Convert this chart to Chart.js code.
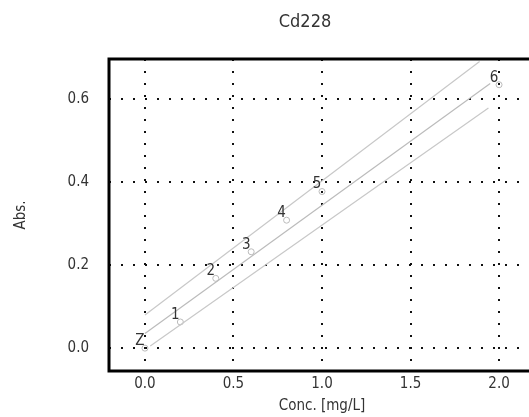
<!DOCTYPE html>
<html>
<head>
<meta charset="utf-8">
<script src="https://cdn.jsdelivr.net/npm/chart.js@4"></script>
<style>
  html, body { margin: 0; padding: 0; background: #fff; overflow: hidden; }
  #wrap { width: 608px; height: 417px; }
</style>
</head>
<body>
<div id="wrap"><canvas id="grafico" width="608" height="417"></canvas></div>
<script>
// Dados da curva de calibração
const concPontos = [0, 0.2, 0.4, 0.6, 0.8, 1.0, 2.0];
const absPontos = [0.0, 0.063, 0.168, 0.232, 0.308, 0.377, 0.634];
const rotulosPontos = ['Z', '1', '2', '3', '4', '5', '6'];

// Reta de regressão e limites
const retaX = [0, 1.95];
const retaY = [0.035, 0.637];
const limSupX = [0, 1.89];
const limSupY = [0.08, 0.69];
const limInfX = [0.03, 1.94];
const limInfY = [0.005, 0.578];

const ticksX = [0, 0.5, 1.0, 1.5, 2.0];
const ticksY = [0, 0.2, 0.4, 0.6];

const titulo = 'Cd228';
const fonte = "'DejaVu Sans Condensed', 'Liberation Sans', Arial, sans-serif";

function pares(xs, ys) {
  return xs.map((x, i) => ({ x: x, y: ys[i] }));
}

// Moldura (esquerda, topo, base) e título
const moldura = {
  id: 'moldura',
  afterDraw(chart) {
    const a = chart.chartArea;
    const ctx = chart.ctx;
    ctx.save();
    ctx.strokeStyle = '#000';
    ctx.lineWidth = 3;
    ctx.beginPath();
    ctx.moveTo(a.right, a.top);
    ctx.lineTo(a.left, a.top);
    ctx.lineTo(a.left, a.bottom);
    ctx.lineTo(a.right, a.bottom);
    ctx.stroke();

    ctx.fillStyle = '#333';
    ctx.font = '18px ' + fonte;
    ctx.textAlign = 'center';
    ctx.textBaseline = 'middle';
    ctx.fillText(titulo, 305, 22);
    ctx.restore();
  }
};

// Rótulos dos pontos
const rotulos = {
  id: 'rotulos',
  afterDatasetsDraw(chart) {
    const meta = chart.getDatasetMeta(3);
    const ctx = chart.ctx;
    ctx.save();
    ctx.fillStyle = '#333';
    ctx.font = '15px ' + fonte;
    ctx.textAlign = 'center';
    ctx.textBaseline = 'middle';
    meta.data.forEach((p, i) => {
      ctx.fillText(rotulosPontos[i], p.x - 5, p.y - 7);
    });
    ctx.restore();
  }
};

new Chart(document.getElementById('grafico'), {
  type: 'scatter',
  data: {
    datasets: [
      {
        data: pares(limSupX, limSupY),
        showLine: true,
        borderColor: '#c8c8c8',
        borderWidth: 1.2,
        pointRadius: 0
      },
      {
        data: pares(retaX, retaY),
        showLine: true,
        borderColor: '#bbbbbb',
        borderWidth: 1.2,
        pointRadius: 0
      },
      {
        data: pares(limInfX, limInfY),
        showLine: true,
        borderColor: '#c8c8c8',
        borderWidth: 1.2,
        pointRadius: 0
      },
      {
        data: pares(concPontos, absPontos),
        showLine: false,
        pointRadius: 3,
        pointBorderColor: '#bbb',
        pointBackgroundColor: 'rgba(255,255,255,0)',
        pointBorderWidth: 1
      }
    ]
  },
  options: {
    responsive: false,
    animation: false,
    layout: { padding: { left: 0, right: 73, top: 59, bottom: 0 } },
    plugins: {
      legend: { display: false },
      tooltip: { enabled: false },
      title: { display: false }
    },
    scales: {
      x: {
        type: 'linear',
        min: -0.203,
        max: 2.203,
        afterBuildTicks: s => { s.ticks = ticksX.map(v => ({ value: v })); },
        afterFit: s => { s.height = 46; },
        ticks: {
          color: '#333',
          font: { family: fonte, size: 15 },
          padding: 4,
          callback: v => v.toFixed(1)
        },
        grid: { color: '#111', lineWidth: 2, drawTicks: false },
        border: { display: false, dash: [2, 10] },
        title: {
          display: true,
          text: 'Conc. [mg/L]',
          color: '#333',
          font: { family: fonte, size: 15 },
          padding: { top: 0, bottom: 2 }
        }
      },
      y: {
        type: 'linear',
        min: -0.055,
        max: 0.696,
        afterBuildTicks: s => { s.ticks = ticksY.map(v => ({ value: v })); },
        afterFit: s => { s.width = 109; },
        ticks: {
          color: '#333',
          font: { family: fonte, size: 15 },
          padding: 20,
          callback: v => v.toFixed(1)
        },
        grid: { color: '#111', lineWidth: 2, drawTicks: false },
        border: { display: false, dash: [2, 10] },
        title: {
          display: true,
          text: 'Abs.',
          color: '#333',
          font: { family: fonte, size: 15 },
          padding: { top: 12, bottom: 0 }
        }
      }
    }
  },
  plugins: [moldura, rotulos]
});
</script>
</body>
</html>
